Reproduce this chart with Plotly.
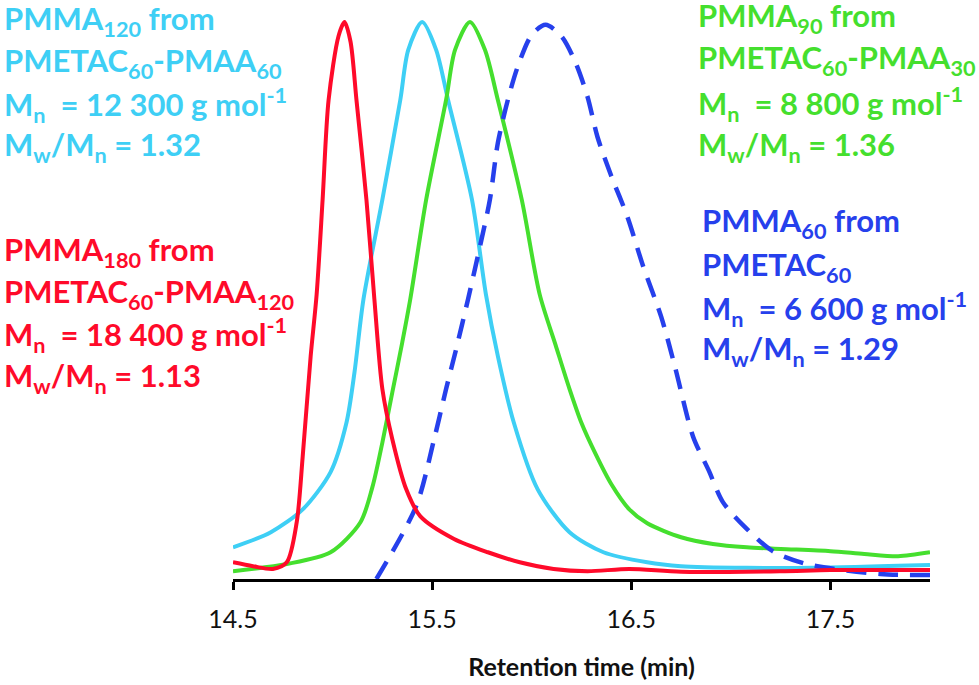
import plotly.graph_objects as go

# ---- data ----
red_x = [14.50, 14.60, 14.70, 14.77, 14.82, 14.85, 14.89, 14.92, 14.95, 14.98, 15.03, 15.06, 15.09, 15.12,
         15.17, 15.21, 15.25, 15.30, 15.37, 15.44, 15.61, 15.78, 15.94, 16.11, 16.28, 16.49, 16.75, 17.25,
         17.50, 18.00]
red_y = [0.030, 0.023, 0.018, 0.030, 0.102, 0.220, 0.400, 0.511, 0.681, 0.860, 0.975, 1.000, 0.965, 0.860,
         0.681, 0.502, 0.341, 0.251, 0.161, 0.113, 0.072, 0.048, 0.030, 0.018, 0.014, 0.018, 0.013, 0.014,
         0.016, 0.016]

cyan_x = [14.50, 14.69, 14.85, 14.99, 15.07, 15.11, 15.155, 15.25, 15.34, 15.38, 15.45, 15.52, 15.58, 15.70,
          15.77, 15.83, 15.91, 16.03, 16.19, 16.36, 16.58, 16.75, 17.08, 17.41, 18.00]
cyan_y = [0.057, 0.084, 0.125, 0.192, 0.281, 0.371, 0.502, 0.681, 0.860, 0.950, 1.000, 0.950, 0.860, 0.681,
          0.511, 0.400, 0.281, 0.161, 0.084, 0.048, 0.030, 0.023, 0.020, 0.020, 0.025]

green_x = [14.50, 14.77, 14.99, 15.14, 15.20, 15.25, 15.30, 15.35, 15.39, 15.47, 15.57, 15.615, 15.69, 15.765,
           15.83, 15.95, 16.04, 16.12, 16.19, 16.25, 16.32, 16.40, 16.49, 16.58, 16.75, 16.91, 17.08, 17.25,
           17.50, 17.67, 17.84, 18.00]
green_y = [0.014, 0.027, 0.048, 0.102, 0.165, 0.245, 0.335, 0.425, 0.502, 0.681, 0.860, 0.950, 1.000, 0.950,
           0.860, 0.681, 0.511, 0.420, 0.341, 0.280, 0.225, 0.170, 0.125, 0.100, 0.075, 0.063, 0.057, 0.054,
           0.050, 0.045, 0.041, 0.048]

blue_x = [15.22, 15.42, 15.51, 15.57, 15.62, 15.68, 15.74, 15.79, 15.83, 15.88, 15.93, 16.00, 16.07, 16.15,
          16.22, 16.28, 16.33, 16.40, 16.48, 16.56, 16.65, 16.72, 16.81, 16.89, 16.96, 17.08, 17.21, 17.38,
          17.75, 18.00]
blue_y = [0.000, 0.131, 0.251, 0.341, 0.412, 0.502, 0.597, 0.681, 0.783, 0.860, 0.920, 0.977, 0.995, 0.974,
          0.927, 0.866, 0.794, 0.723, 0.651, 0.561, 0.471, 0.380, 0.256, 0.194, 0.138, 0.090, 0.050, 0.027,
          0.009, 0.007]

tick_vals = [14.5, 15.5, 16.5, 17.5]
tick_text = ["14.5", "15.5", "16.5", "17.5"]
x_title = "Retention time (min)"

RED = "#ff0a2a"
CYAN = "#3ecff5"
GREEN = "#45df2e"
BLUE = "#2640ec"

labels_cyan = ["PMMA<sub>120</sub> from", "PMETAC<sub>60</sub>-PMAA<sub>60</sub>",
               "M<sub>n</sub>&nbsp; = 12 300 g mol<sup>-1</sup>", "M<sub>w</sub>/M<sub>n</sub> = 1.32"]
labels_red = ["PMMA<sub>180</sub> from", "PMETAC<sub>60</sub>-PMAA<sub>120</sub>",
              "M<sub>n</sub>&nbsp; = 18 400 g mol<sup>-1</sup>", "M<sub>w</sub>/M<sub>n</sub> = 1.13"]
labels_green = ["PMMA<sub>90</sub> from", "PMETAC<sub>60</sub>-PMAA<sub>30</sub>",
                "M<sub>n</sub>&nbsp; = 8 800 g mol<sup>-1</sup>", "M<sub>w</sub>/M<sub>n</sub> = 1.36"]
labels_blue = ["PMMA<sub>60</sub> from", "PMETAC<sub>60</sub>",
               "M<sub>n</sub>&nbsp; = 6 600 g mol<sup>-1</sup>", "M<sub>w</sub>/M<sub>n</sub> = 1.29"]

# ---- layout geometry (pixels) ----
W, H = 979, 685
L, R, T, B = 233, 49, 5, 106
PW, PH = W - L - R, H - T - B


def px_x(px):
    return (px - L) / PW


def px_y(py):
    return (H - B - py) / PH


fig = go.Figure()
fig.add_trace(go.Scatter(x=cyan_x, y=cyan_y, mode="lines", line=dict(color=CYAN, width=4, shape="spline", smoothing=0.8)))
fig.add_trace(go.Scatter(x=green_x, y=green_y, mode="lines", line=dict(color=GREEN, width=4, shape="spline", smoothing=0.8)))
fig.add_trace(go.Scatter(x=blue_x, y=blue_y, mode="lines",
                         line=dict(color=BLUE, width=4.5, shape="spline", smoothing=0.8, dash="20px,12px")))
fig.add_trace(go.Scatter(x=red_x, y=red_y, mode="lines", line=dict(color=RED, width=4, shape="spline", smoothing=0.8)))

annos = []
blocks = [
    (labels_cyan, CYAN, 2, [31, 74, 116, 158]),
    (labels_red, RED, 2, [262, 304, 346, 388]),
    (labels_green, GREEN, 696, [28, 70, 115, 157]),
    (labels_blue, BLUE, 700, [233, 277, 320, 362]),
]
for lines, col, x0, baselines in blocks:
    for txt, bl in zip(lines, baselines):
        annos.append(dict(text=txt, xref="paper", yref="paper", x=px_x(x0), y=px_y(bl - 11),
                          xanchor="left", yanchor="middle", showarrow=False, align="left",
                          font=dict(family="Lato", size=31, color=col, weight="bold")))

fig.update_layout(
    width=W, height=H,
    margin=dict(l=L, r=R, t=T, b=B),
    paper_bgcolor="white", plot_bgcolor="white",
    showlegend=False,
    annotations=annos,
    xaxis=dict(range=[14.5, 18.0], tickvals=tick_vals, ticktext=tick_text,
               showline=True, linecolor="black", linewidth=3, ticks="outside", ticklen=8, tickwidth=3,
               tickcolor="black", showgrid=False, zeroline=False,
               tickfont=dict(family="Lato", size=25, color="#111111"),
               ticklabelstandoff=8,
               title=dict(text=x_title, font=dict(family="Lato", size=25, color="#111111", weight="bold"),
                          standoff=27)),
    yaxis=dict(range=[0, 574 / 557], visible=False, showgrid=False, zeroline=False),
)

fig.write_html("out.html", config={"displayModeBar": False},
               post_script="document.body.style.margin='0px';")
